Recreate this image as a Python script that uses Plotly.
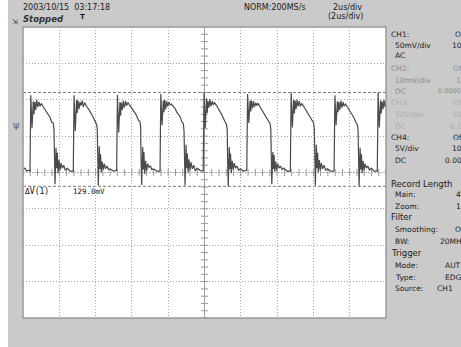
import numpy as np
import plotly.graph_objects as go

# ---------------- data ----------------
time_per_div_us = 2.0
volt_per_div_mv = 50.0
n_hdiv = 10
n_vdiv = 8

rise_times_us = [0.386, 2.77, 5.16, 7.55, 9.93, 12.33, 14.73, 17.14, 19.52]
pulse_dt_us = [0.000, 0.011, 0.028, 0.044, 0.110, 0.182, 0.220, 0.259, 0.314, 0.369,
               0.424, 0.496, 0.551, 0.623, 0.733, 0.827, 0.920, 1.008, 1.102, 1.196,
               1.284, 1.322, 1.344, 1.378, 1.433, 1.471, 1.504, 1.543, 1.598, 1.653,
               1.708, 1.780, 1.857, 1.945, 2.039, 2.204]
pulse_mv = [
    [2, 54, 57, 106, 61, 98, 80, 97, 86, 100, 90, 97, 91, 95, 90, 86, 83, 79, 76, 69, 68, 58, 17, -16, 34, 6, 27, -1, 17, 3, 13, 6, 10, 3, 6, 2],
    [2, 50, 52, 106, 57, 100, 82, 99, 87, 97, 92, 99, 90, 96, 91, 88, 84, 80, 75, 71, 66, 60, 15, -18, 36, 5, 25, 0, 15, 4, 12, 5, 9, 4, 5, 2],
    [3, 52, 55, 107, 55, 97, 78, 96, 86, 99, 89, 98, 92, 96, 92, 89, 85, 82, 78, 72, 70, 62, 18, -17, 35, 4, 28, -2, 16, 2, 12, 7, 9, 4, 5, 2],
    [2, 56, 60, 108, 65, 99, 83, 100, 87, 98, 91, 97, 93, 94, 91, 88, 83, 80, 77, 70, 67, 57, 16, -18, 38, 6, 26, 0, 18, 3, 14, 5, 10, 2, 6, 3],
    [2, 58, 62, 110, 61, 102, 82, 98, 89, 101, 91, 98, 93, 96, 92, 87, 84, 80, 76, 70, 66, 58, 16, -19, 35, 5, 26, -1, 16, 4, 13, 6, 9, 3, 5, 2],
    [3, 55, 58, 108, 68, 99, 84, 99, 88, 98, 90, 96, 92, 95, 90, 86, 82, 79, 75, 70, 67, 60, 18, -16, 28, 5, 24, 1, 15, 3, 12, 6, 9, 4, 6, 2],
    [2, 54, 58, 110, 62, 100, 81, 99, 87, 100, 91, 98, 91, 95, 91, 87, 84, 80, 77, 71, 68, 59, 17, -18, 38, 6, 27, 0, 17, 3, 13, 5, 10, 3, 5, 2],
    [2, 56, 59, 106, 65, 98, 83, 97, 86, 99, 89, 97, 91, 94, 90, 86, 83, 78, 75, 69, 66, 57, 15, -19, 34, 4, 25, -1, 16, 3, 12, 6, 9, 3, 6, 2],
    [2, 55, 58, 110, 62, 99, 81, 98, 87, 100, 90, 97, 91, 95, 90, 86, 83, 79, 76, 69, 68, 58, 17, -16, 34, 6, 27, -1, 17, 3, 13, 6, 10, 3, 6, 2],
]
pre_t_us = [0.0, 0.10, 0.20, 0.30]
pre_mv = [4, 6, 2, 3]
cursor_mv = [110.0, -19.0]

header_date = "2003/10/15  03:17:18"
header_state = "Stopped"
header_rate = "NORM:200MS/s"
header_tdiv = "2us/div"
header_tdiv2 = "(2us/div)"
dv_label = "ΔV(1)"
dv_value = "129.0mV"

# right panel rows (label, value as visible, indent, colour)
panel_rows = [
    ("CH1:", "O", 0, "#1a1a1a"),
    ("50mV/div", "10", 1, "#1a1a1a"),
    ("AC", "", 1, "#1a1a1a"),
    ("CH2:", "Of", 0, "#8a8a8a"),
    ("10mV/div", "1", 1, "#8a8a8a"),
    ("DC", "0.0000", 1, "#8a8a8a"),
    ("CH3:", "Of", 0, "#acacac"),
    ("50V/div", "10", 1, "#acacac"),
    ("DC", "0.0", 1, "#acacac"),
    ("CH4:", "Of", 0, "#1a1a1a"),
    ("5V/div", "10", 1, "#1a1a1a"),
    ("DC", "0.00", 1, "#1a1a1a"),
]
panel_rows2 = [
    ("Record Length", "", 0),
    ("Main:", "4", 1),
    ("Zoom:", "1", 1),
    ("Filter", "", 0),
    ("Smoothing:", "O", 1),
    ("BW:", "20MH", 1),
    ("Trigger", "", 0),
    ("Mode:", "AUT", 1),
    ("Type:", "EDG", 1),
    ("Source:", "CH1", 1),
]
panel_y1 = [34, 45, 56, 68, 80, 91, 103, 114, 126, 137, 148, 160]
panel_val_x1 = [453, 450, 0, 451, 454, 436, 451, 450, 448, 451, 450, 443]
panel_y2 = [184, 195, 206, 217, 229, 241, 253, 265, 277, 288]
panel_val_x2 = [0, 454, 454, 0, 453, 438, 444, 443, 443, 435]

# ---------------- build trace ----------------
t = list(pre_t_us)
v = list(pre_mv)
for tr, vals in zip(rise_times_us, pulse_mv):
    t += [tr + d for d in pulse_dt_us]
    v += vals

xmax = time_per_div_us * n_hdiv
ymax = volt_per_div_mv * n_vdiv / 2

W, H = 461, 347
L, R, T, B = 23, 386, 27, 318


def px(xp):
    return (xp - L) / (R - L)


def py(yp):
    return (B - yp) / (B - T)


fig = go.Figure()

# center-line tick marks
vt = np.arange(-ymax, ymax + 0.01, volt_per_div_mv / 5)
ht = np.arange(0, xmax + 0.01, time_per_div_us / 5)
fig.add_trace(go.Scatter(x=[xmax / 2] * len(vt), y=vt, mode="markers",
                         marker=dict(symbol="line-ew", size=5, line=dict(color="#9a9a9a", width=1)),
                         hoverinfo="skip", showlegend=False))
fig.add_trace(go.Scatter(x=ht, y=[0] * len(ht), mode="markers",
                         marker=dict(symbol="line-ns", size=5, line=dict(color="#9a9a9a", width=1)),
                         hoverinfo="skip", showlegend=False))

fig.add_trace(go.Scatter(x=t, y=v, mode="lines",
                         line=dict(color="#4a4a4a", width=1.2),
                         hoverinfo="skip", showlegend=False))

shapes = []
# white strip on the far left
shapes.append(dict(type="rect", xref="paper", yref="paper",
                   x0=px(0), x1=px(8), y0=py(H), y1=py(0),
                   fillcolor="white", line=dict(width=0), layer="below"))
# center lines
shapes.append(dict(type="line", xref="x", yref="y", x0=xmax / 2, x1=xmax / 2, y0=-ymax, y1=ymax,
                   line=dict(color="#9a9a9a", width=1), layer="below"))
shapes.append(dict(type="line", xref="x", yref="y", x0=0, x1=xmax, y0=0, y1=0,
                   line=dict(color="#b0b0b0", width=1, dash="2px,1px"), layer="below"))
# cursors
for c in cursor_mv:
    shapes.append(dict(type="line", xref="x", yref="y", x0=0, x1=xmax, y0=c, y1=c,
                       line=dict(color="#7a7a7a", width=1, dash="3px,2px"), layer="below"))
# plot border
shapes.append(dict(type="rect", xref="paper", yref="paper", x0=0, x1=1, y0=0, y1=1,
                   line=dict(color="#9a9a9a", width=1.5)))

FONT = "DejaVu Sans"
ann = []


def text(x, y, s, size=7.5, color="#1a1a1a", family=FONT, bold=False, italic=False):
    if bold:
        s = "<b>" + s + "</b>"
    if italic:
        s = "<i>" + s + "</i>"
    ann.append(dict(x=px(x), y=py(y), xref="paper", yref="paper", text=s,
                    showarrow=False, xanchor="left", yanchor="middle",
                    font=dict(size=size, color=color, family=family)))


text(21, 7, header_date, size=8)
text(21, 19, header_state, size=8.5, italic=True, bold=True, color="#333")
text(78, 17, "T", size=7, bold=True)
text(10, 22, "⇲", size=7, color="#333")
text(242, 7, header_rate, size=8)
text(331, 7, header_tdiv, size=8)
text(326, 17, header_tdiv2, size=8)
text(11, 127, "Ψ", size=8, color="#555")
text(23, 191, dv_label, size=8, family="DejaVu Sans Mono", color="#111")
text(71, 191, dv_value, size=7.5, family="DejaVu Sans Mono", color="#111")

for (lab, val, ind, col), yy, vx in zip(panel_rows, panel_y1, panel_val_x1):
    text(389 + 4 * ind, yy, lab, size=7.5, color=col)
    if val:
        text(vx, yy, val, size=6.5 if len(val) > 4 else 7.5, color=col)
for (lab, val, ind), yy, vx in zip(panel_rows2, panel_y2, panel_val_x2):
    text(389 + 4 * ind, yy, lab, size=7.5 if ind else 8.5)
    if val:
        text(vx, yy, val, size=7.5)

axis_common = dict(showticklabels=False, ticks="", zeroline=False, showline=False,
                   showgrid=True, gridcolor="#a8a8a8", gridwidth=1, griddash="1px,2px",
                   fixedrange=True)
fig.update_layout(
    width=W, height=H,
    margin=dict(l=L, r=W - R, t=T, b=H - B, pad=0),
    paper_bgcolor="#cacaca", plot_bgcolor="white",
    xaxis=dict(range=[0, xmax], dtick=time_per_div_us, tick0=0, **axis_common),
    yaxis=dict(range=[-ymax, ymax], dtick=volt_per_div_mv, tick0=0, **axis_common),
    shapes=shapes, annotations=ann, showlegend=False,
)
fig.write_html("out.html", config={"displayModeBar": False})
